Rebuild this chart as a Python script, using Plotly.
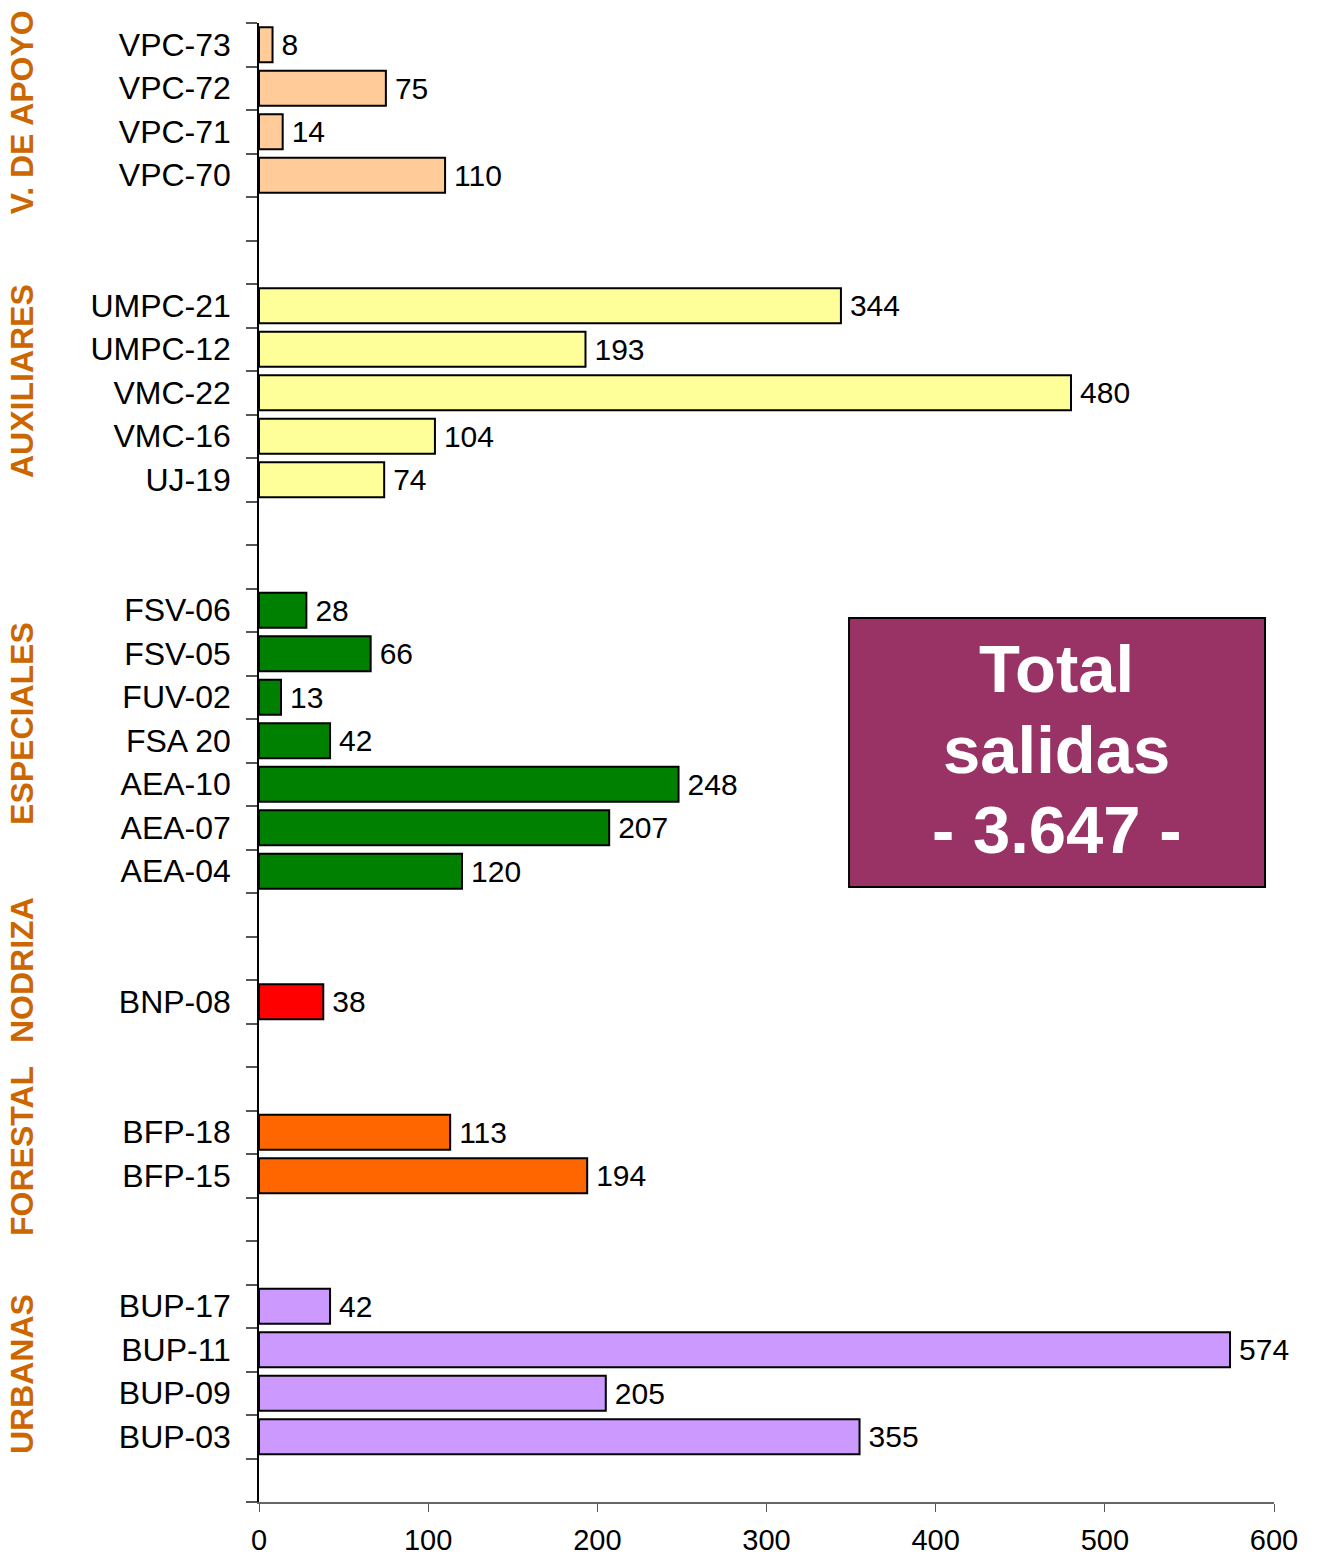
import plotly.graph_objects as go

# ---- data (top to bottom) ----
group_names = ["V. DE APOYO", "AUXILIARES", "ESPECIALES", "NODRIZA", "FORESTAL", "URBANAS"]
group_colors = ["#FFCC99", "#FFFF99", "#008000", "#FF0000", "#FF6600", "#CC99FF"]

apoyo_units = ["VPC-73", "VPC-72", "VPC-71", "VPC-70"]
apoyo_vals = [8, 75, 14, 110]

aux_units = ["UMPC-21", "UMPC-12", "VMC-22", "VMC-16", "UJ-19"]
aux_vals = [344, 193, 480, 104, 74]

esp_units = ["FSV-06", "FSV-05", "FUV-02", "FSA 20", "AEA-10", "AEA-07", "AEA-04"]
esp_vals = [28, 66, 13, 42, 248, 207, 120]

nod_units = ["BNP-08"]
nod_vals = [38]

for_units = ["BFP-18", "BFP-15"]
for_vals = [113, 194]

urb_units = ["BUP-17", "BUP-11", "BUP-09", "BUP-03"]
urb_vals = [42, 574, 205, 355]

x_ticks = [0, 100, 200, 300, 400, 500, 600]
total_text = ["Total", "salidas", "- 3.647 -"]

groups = [
    (apoyo_units, apoyo_vals),
    (aux_units, aux_vals),
    (esp_units, esp_vals),
    (nod_units, nod_vals),
    (for_units, for_vals),
    (urb_units, urb_vals),
]
gap_after = [2, 2, 2, 2, 2, 1]  # empty slots after each group
label_y = [1.55, 7.73, 15.59, 21.27, 25.43, 30.56]  # rotated group-label positions (slot units)

FONT = "Liberation Sans, Arial, sans-serif"
LABEL_COLOR = "#CC6600"

fig = go.Figure()
slot = 0
tickvals, ticktext = [], []
for gi, ((units, vals), gap) in enumerate(zip(groups, gap_after)):
    ys = list(range(slot, slot + len(units)))
    tickvals += ys
    ticktext += units
    fig.add_trace(go.Bar(
        x=vals, y=ys, orientation="h", width=0.8,
        marker=dict(color=group_colors[gi], line=dict(color="black", width=2)),
        text=[f"\u2009{v}" for v in vals], textposition="outside",
        textfont=dict(family=FONT, size=30, color="black"),
        constraintext="none", cliponaxis=False,
        showlegend=False, hoverinfo="skip",
    ))
    slot += len(units) + gap
n_slots = slot
boundaries = [i - 0.5 for i in range(n_slots + 1)]

# group labels (rotated)
for name, yy in zip(group_names, label_y):
    fig.add_annotation(
        x=-0.2335, xref="paper", y=yy, yref="y",
        text=f"<b>{name}</b>", textangle=-90, showarrow=False,
        font=dict(family=FONT, size=32, color=LABEL_COLOR),
        xanchor="center", yanchor="middle",
    )

# total box
fig.add_shape(type="rect", xref="x", yref="y", x0=348.8, x1=594.7, y0=13.18, y1=19.36,
              fillcolor="#993366", line=dict(color="black", width=2), layer="above")
for t, yy in zip(total_text, [14.33, 16.21, 18.05]):
    fig.add_annotation(x=471.7, y=yy, xref="x", yref="y", text=f"<b>{t}</b>",
                       showarrow=False, font=dict(family=FONT, size=67, color="white"),
                       xanchor="center", yanchor="middle")

fig.update_layout(
    width=1319, height=1555,
    margin=dict(l=259, r=45, t=23, b=53, autoexpand=False),
    paper_bgcolor="white", plot_bgcolor="white",
    bargap=0.2,
    font=dict(family=FONT, color="black"),
)
fig.update_xaxes(
    range=[0, 600], tickvals=x_ticks, ticks="outside", ticklen=8, tickcolor="#555",
    showline=True, linecolor="#666", linewidth=1.5, showgrid=False, zeroline=False,
    tickfont=dict(family=FONT, size=29, color="black"), ticklabelstandoff=3,
    automargin=False,
)
fig.update_yaxes(
    range=[n_slots - 0.5, -0.5], tickmode="array", tickvals=tickvals, ticktext=ticktext,
    ticks="", showline=True, linecolor="black", linewidth=1.5, showgrid=False, zeroline=False,
    tickfont=dict(family=FONT, size=32, color="black"), ticklabelstandoff=20,
    automargin=False,
    minor=dict(tickmode="array", tickvals=boundaries, ticks="outside", ticklen=11,
               tickcolor="#555", tickwidth=1.5, showgrid=False),
)

fig.write_html(
    "out.html",
    config={"displayModeBar": False},
    post_script="document.body.style.margin='0';document.body.style.overflow='hidden';",
)
